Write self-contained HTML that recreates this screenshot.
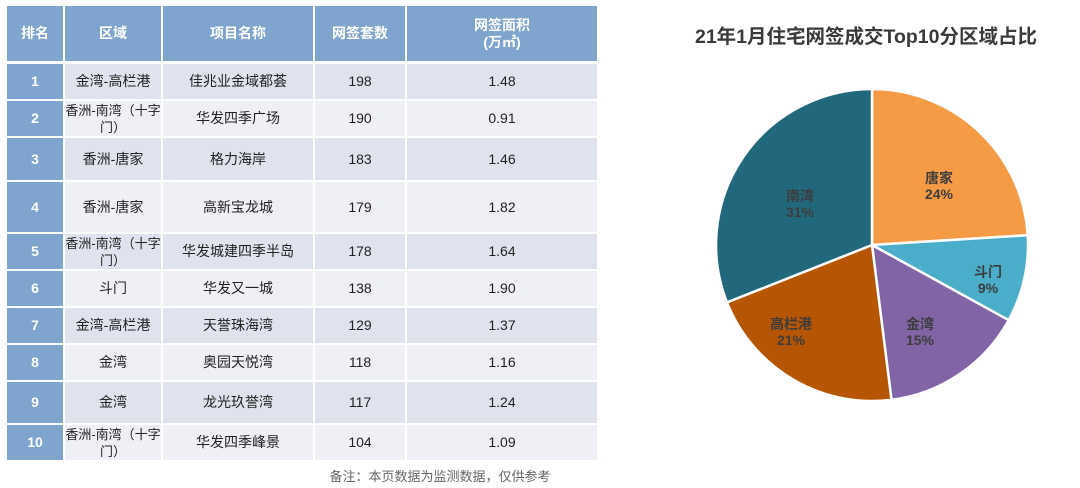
<!DOCTYPE html>
<html><head><meta charset="utf-8"><style>
body{margin:0;width:1080px;height:488px;background:#fff;position:relative;overflow:hidden;font-family:"Liberation Sans","Noto Sans CJK SC",sans-serif;}
.c{position:absolute;display:flex;align-items:center;justify-content:center;text-align:center;font-size:14px;color:#222;line-height:17px;box-sizing:border-box;padding:0;white-space:nowrap;}
.n{font-size:13px;}
.h{background:#7fa5cf;color:#fff;font-weight:bold;font-size:14px;}
.r{background:#7fa5cf;color:#fff;font-weight:bold;font-size:14px;}
.a{background:#dfe3ed;}
.b{background:#eef0f6;}
</style></head><body>
<div id="t"></div>
<script>
var cols=[[7,63],[65,161],[163,313],[315,405],[407,597]];
var rows=[[64,99],[101,136],[138,180],[182,232],[234,269],[271,306],[308,343],[345,380],[382,423],[425,460]];
var data=[["1","金湾-高栏港","佳兆业金域都荟","198","1.48"],["2","香洲-南湾（十字<br>门）","华发四季广场","190","0.91"],["3","香洲-唐家","格力海岸","183","1.46"],["4","香洲-唐家","高新宝龙城","179","1.82"],["5","香洲-南湾（十字<br>门）","华发城建四季半岛","178","1.64"],["6","斗门","华发又一城","138","1.90"],["7","金湾-高栏港","天誉珠海湾","129","1.37"],["8","金湾","奥园天悦湾","118","1.16"],["9","金湾","龙光玖誉湾","117","1.24"],["10","香洲-南湾（十字<br>门）","华发四季峰景","104","1.09"]];
var hd=["排名","区域","项目名称","网签套数","网签面积<br>(万㎡)"];
var s="";
for(var j=0;j<5;j++)s+='<div class="c h" style="left:'+cols[j][0]+'px;width:'+(cols[j][1]-cols[j][0])+'px;top:6px;height:55px">'+hd[j]+'</div>';
for(var i=0;i<10;i++)for(var j=0;j<5;j++){var cl=j==0?'r':(i%2==0?'a':'b');if(j==1&&data[i][j].indexOf('br')>0)cl+=' n';
s+='<div class="c '+cl+'" style="left:'+cols[j][0]+'px;width:'+(cols[j][1]-cols[j][0])+'px;top:'+rows[i][0]+'px;height:'+(rows[i][1]-rows[i][0])+'px">'+data[i][j]+'</div>';}
document.getElementById("t").innerHTML=s;
</script>
<div style="position:absolute;left:0;width:880px;top:466px;text-align:center;font-size:13px;color:#666;">备注：本页数据为监测数据，仅供参考</div>
<div style="position:absolute;left:660px;width:412px;top:20px;text-align:center;font-size:19.5px;font-weight:bold;color:#3a3a3a;">21年1月住宅网签成交Top10分区域占比</div>
<svg style="position:absolute;left:0;top:0" width="1080" height="488">
<g stroke="#fff" stroke-width="2.5" stroke-linejoin="round">
<path d="M872,245 L872,89 A156,156 0 0 1 1027.7,235.2 Z" fill="#f59a45"/>
<path d="M872,245 L1027.7,235.2 A156,156 0 0 1 1008.7,320.2 Z" fill="#4aadc9"/>
<path d="M872,245 L1008.7,320.2 A156,156 0 0 1 891.5,399.8 Z" fill="#8064a6"/>
<path d="M872,245 L891.5,399.8 A156,156 0 0 1 727,302.4 Z" fill="#b65503"/>
<path d="M872,245 L727,302.4 A156,156 0 0 1 872,89 Z" fill="#22687c"/>
</g>
<g font-family="Liberation Sans,Noto Sans CJK SC,sans-serif" font-size="14" font-weight="bold" fill="#3d3d3d" text-anchor="middle">
<text x="939" y="183">唐家</text><text x="939" y="199">24%</text>
<text x="988" y="277">斗门</text><text x="988" y="293">9%</text>
<text x="920" y="329">金湾</text><text x="920" y="345">15%</text>
<text x="791" y="329">高栏港</text><text x="791" y="345">21%</text>
<text x="800" y="201">南湾</text><text x="800" y="217">31%</text>
</g>
</svg>
</body></html>
